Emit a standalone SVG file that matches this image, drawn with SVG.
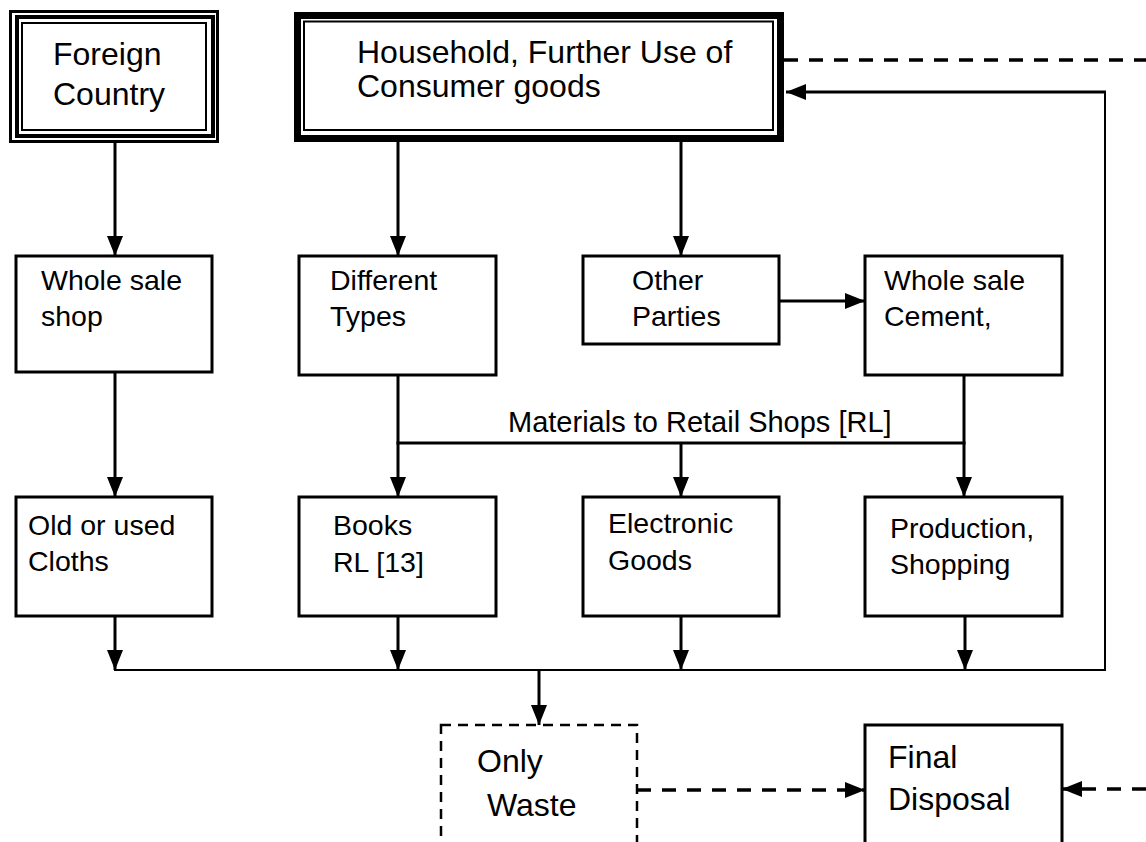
<svg xmlns="http://www.w3.org/2000/svg" width="1146" height="842" viewBox="0 0 1146 842">
  <style>
    text { font-family: "Liberation Sans", Arial, sans-serif; fill: #000; }
    .big { font-size: 32px; }
    .lbl { font-size: 28.5px; }
    .mid { font-size: 29px; }
    .box { fill: #fff; stroke: #000; stroke-width: 3; }
    .dbox { fill: #fff; stroke: #000; stroke-width: 2.5; stroke-dasharray: 10 7; }
    .flow { fill: none; stroke: #000; stroke-width: 3; }
    .thin { fill: none; stroke: #000; stroke-width: 2; }
    .dflow { fill: none; stroke: #000; stroke-width: 3.5; stroke-dasharray: 14 11; }
  </style>
  <defs>
    <marker id="arrow" markerUnits="userSpaceOnUse" markerWidth="21" markerHeight="16" refX="20" refY="8" orient="auto">
      <path d="M0,0 L20,8 L0,16 z" fill="#000"/>
    </marker>
    <clipPath id="clipGoods">
      <rect x="300" y="60" width="480" height="48"/>
    </clipPath>
  </defs>
  <rect width="1146" height="842" fill="#fff"/>

  <!-- connectors -->
  <g id="connectors">
    <line class="dflow" x1="784" y1="60" x2="1146" y2="60"/>
    <polyline class="thin" points="1105,670 1105,92"/>
    <line class="flow" x1="1106" y1="92" x2="786" y2="92" marker-end="url(#arrow)"/>
    <line class="flow" x1="115" y1="143" x2="115" y2="256" marker-end="url(#arrow)"/>
    <line class="flow" x1="398" y1="142" x2="398" y2="256" marker-end="url(#arrow)"/>
    <line class="flow" x1="681" y1="142" x2="681" y2="256" marker-end="url(#arrow)"/>
    <line class="flow" x1="779" y1="301" x2="865" y2="301" marker-end="url(#arrow)"/>
    <line class="flow" x1="115" y1="372" x2="115" y2="497" marker-end="url(#arrow)"/>
    <line class="flow" x1="398" y1="375" x2="398" y2="497" marker-end="url(#arrow)"/>
    <line class="flow" x1="964" y1="375" x2="964" y2="497" marker-end="url(#arrow)"/>
    <line class="flow" x1="396.5" y1="443" x2="965.5" y2="443"/>
    <line class="flow" x1="681" y1="443" x2="681" y2="497" marker-end="url(#arrow)"/>
    <text class="mid" x="508" y="432">Materials to Retail Shops [RL]</text>
    <line class="flow" x1="115" y1="616" x2="115" y2="670" marker-end="url(#arrow)"/>
    <line class="flow" x1="398" y1="616" x2="398" y2="670" marker-end="url(#arrow)"/>
    <line class="flow" x1="681" y1="616" x2="681" y2="670" marker-end="url(#arrow)"/>
    <line class="flow" x1="965" y1="616" x2="965" y2="670" marker-end="url(#arrow)"/>
    <line class="thin" x1="114" y1="670" x2="1106" y2="670"/>
    <line class="flow" x1="539" y1="670" x2="539" y2="725" marker-end="url(#arrow)"/>
    <line class="dflow" x1="637" y1="790" x2="865" y2="790" marker-end="url(#arrow)"/>
    <line class="dflow" x1="1146" y1="789" x2="1062" y2="789" marker-end="url(#arrow)"/>
  </g>

  <!-- top row -->
  <g id="foreign-country">
    <rect x="10.5" y="11.5" width="207" height="130" fill="#fff" stroke="#000" stroke-width="3"/>
    <rect x="17" y="17" width="196" height="119" fill="none" stroke="#000" stroke-width="4"/>
    <rect x="22" y="23" width="184" height="107" fill="none" stroke="#000" stroke-width="2"/>
    <text class="big" x="53" y="65">Foreign</text>
    <text class="big" x="53" y="105">Country</text>
  </g>

  <g id="household">
    <rect x="297.5" y="15.5" width="483" height="123" fill="#fff" stroke="#000" stroke-width="7"/>
    <rect x="304" y="21.5" width="469" height="108.5" fill="none" stroke="#000" stroke-width="2"/>
    <text class="big" x="357" y="63">Household, Further Use of</text>
    <text class="big" x="357" y="97" clip-path="url(#clipGoods)">Consumer goods</text>
  </g>

  <!-- second row -->
  <g id="wholesale-shop">
    <rect class="box" x="16" y="256" width="196" height="116"/>
    <text class="lbl" x="41" y="290">Whole sale</text>
    <text class="lbl" x="41" y="326">shop</text>
  </g>
  <g id="different-types">
    <rect class="box" x="299" y="256" width="197" height="119"/>
    <text class="lbl" x="330" y="290">Different</text>
    <text class="lbl" x="330" y="326">Types</text>
  </g>
  <g id="other-parties">
    <rect class="box" x="583" y="256" width="196" height="88"/>
    <text class="lbl" x="632" y="290">Other</text>
    <text class="lbl" x="632" y="326">Parties</text>
  </g>
  <g id="wholesale-cement">
    <rect class="box" x="865" y="256" width="197" height="119"/>
    <text class="lbl" x="884" y="290">Whole sale</text>
    <text class="lbl" x="884" y="326">Cement,</text>
  </g>

  <!-- third row -->
  <g id="old-cloths">
    <rect class="box" x="16" y="497" width="196" height="119"/>
    <text class="lbl" x="28" y="535">Old or used</text>
    <text class="lbl" x="28" y="571">Cloths</text>
  </g>
  <g id="books">
    <rect class="box" x="299" y="497" width="197" height="119"/>
    <text class="lbl" x="333" y="535">Books</text>
    <text class="lbl" x="333" y="572">RL [13]</text>
  </g>
  <g id="electronic-goods">
    <rect class="box" x="583" y="497" width="196" height="119"/>
    <text class="lbl" x="608" y="533">Electronic</text>
    <text class="lbl" x="608" y="570">Goods</text>
  </g>
  <g id="production-shopping">
    <rect class="box" x="865" y="497" width="197" height="119"/>
    <text class="lbl" x="890" y="538">Production,</text>
    <text class="lbl" x="890" y="574">Shopping</text>
  </g>

  <!-- bottom row -->
  <g id="only-waste">
    <rect class="dbox" x="441" y="725" width="196" height="140"/>
    <text class="big" x="477" y="772">Only</text>
    <text class="big" x="487" y="816">Waste</text>
  </g>
  <g id="final-disposal">
    <rect class="box" x="865" y="725" width="197" height="140"/>
    <text class="big" x="888" y="768">Final</text>
    <text class="big" x="888" y="810">Disposal</text>
  </g>
</svg>
